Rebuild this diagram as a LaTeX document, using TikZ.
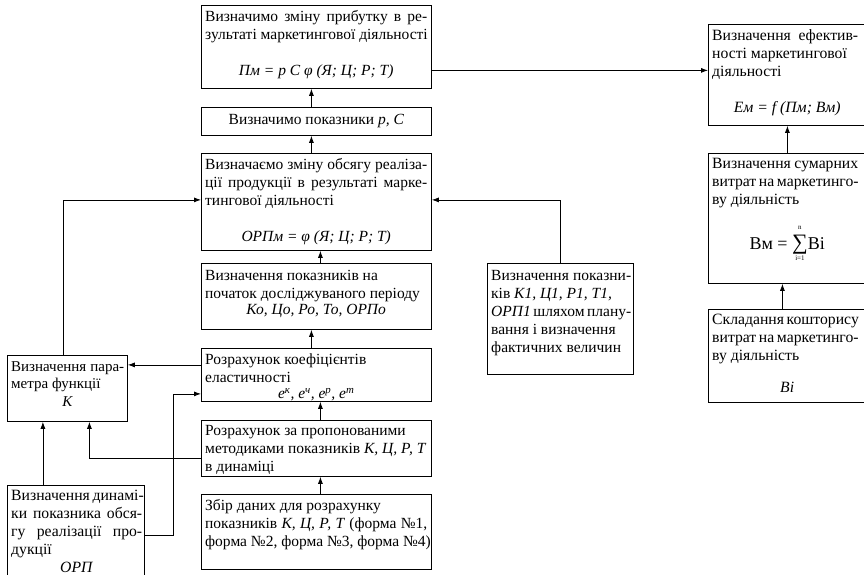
\documentclass[tikz,border=0pt]{standalone}
\usepackage{fontspec}
\setmainfont{Liberation Serif}
\usetikzlibrary{arrows.meta}

\tikzset{
  frame/.style={draw, line width=0.8pt, anchor=north west, inner sep=0pt},
  txt/.style={anchor=north west, inner sep=0pt, align=left},
  big/.style={font=\fontsize{15.7}{18}\selectfont},
  arr/.style={-{Latex[length=7pt,width=5pt]}, line width=0.8pt}
}

\begin{document}
\begin{tikzpicture}[x=1pt, y=-1pt, font=\fontsize{15.5}{18}\selectfont]
\useasboundingbox (0,0) rectangle (864,575);
% main column
\node (prib)[frame, minimum width=230pt, minimum height=83pt] at (201,5) {};
\node (prib-t)[txt] at ([shift={(4pt,-5pt)}]prib.north west) {\makebox[222pt][s]{Визначимо зміну прибутку в ре-}\\зультаті маркетингової діяльності\\[18pt]\makebox[222pt]{\textit{Пм = p C φ (Я; Ц; Р; Т)}}};
\node (pokaz)[frame, minimum width=230pt, minimum height=28pt] at (201,107) {};
\node (pokaz-t) at (pokaz.center) {Визначимо показники \textit{p, C}};
\node (orp)[frame, minimum width=230pt, minimum height=97pt] at (201,153) {};
\node (orp-t)[txt] at ([shift={(4pt,-5pt)}]orp.north west) {\makebox[222pt][s]{Визначаємо зміну обсягу реаліза-}\\\makebox[222pt][s]{ції продукції в результаті марке-}\\тингової діяльності\\[18pt]\makebox[222pt]{\textit{ОРПм = φ (Я; Ц; Р; Т)}}};
\node (poch)[frame, minimum width=230pt, minimum height=66pt] at (201,263) {};
\node (poch-t)[txt] at ([shift={(4pt,-7pt)}]poch.north west) {Визначення показників на\\початок досліджуваного періоду\\[-2pt]\makebox[222pt]{\textit{Ко, Цо, Ро, То, ОРПо}}};
\node (el)[frame, minimum width=230pt, minimum height=53pt] at (201,348) {};
\node (el-t)[txt] at ([shift={(4pt,-6pt)}]el.north west) {Розрахунок коефіцієнтів\\еластичності\\[-2pt]\makebox[222pt]{\textit{e\textsuperscript{к}, e\textsuperscript{ч}, e\textsuperscript{р}, e\textsuperscript{т}}}};
\node (dyn)[frame, minimum width=230pt, minimum height=56pt] at (201,420) {};
\node (dyn-t)[txt] at ([shift={(4pt,-5pt)}]dyn.north west) {Розрахунок за пропонованими\\методиками показників \textit{К, Ц, Р, Т}\\в динаміці};
\node (zbir)[frame, minimum width=230pt, minimum height=75pt] at (201,494) {};
\node (zbir-t)[txt] at ([shift={(4pt,-5pt)}]zbir.north west) {Збір даних для розрахунку\\\makebox[222pt][s]{показників \textit{К, Ц, Р, Т} (форма №1,}\\форма №2, форма №3, форма №4)};
% left column
\node (param)[frame, minimum width=120pt, minimum height=66pt] at (7,355) {};
\node (param-t)[txt, font=\fontsize{15}{17.5}\selectfont] at ([shift={(4pt,-6pt)}]param.north west) {\makebox[113pt][s]{Визначення пара-}\\метра функції\\\makebox[113pt]{\textit{К}}};
\node (orpd)[frame, minimum width=137pt, minimum height=100pt] at (7,485) {};
\node (orpd-t)[txt, big] at ([shift={(4pt,-5pt)}]orpd.north west) {\makebox[131pt][s]{Визначення динамі-}\\\makebox[131pt][s]{ки показника обся-}\\\makebox[131pt][s]{гу реалізації про-}\\дукції\\\makebox[131pt]{\textit{ОРП}}};
% planned values
\node (plan)[frame, minimum width=146pt, minimum height=111pt] at (487,263) {};
\node (plan-t)[txt] at ([shift={(4pt,-7pt)}]plan.north west) {\makebox[140pt][s]{Визначення показни-}\\ків \textit{К1, Ц1, Р1, Т1,}\\\makebox[140pt][s]{\textit{ОРП1} шляхом плану-}\\вання і визначення\\фактичних величин};
% right column
\node (ef)[frame, minimum width=158pt, minimum height=101pt] at (708,24) {};
\node (ef-t)[txt, big] at ([shift={(4pt,-5pt)}]ef.north west) {\makebox[146pt][s]{Визначення ефектив-}\\ності маркетингової\\діяльності\\[18pt]\makebox[150pt]{\textit{Ем = f (Пм; Вм)}}};
\node (vm)[frame, minimum width=158pt, minimum height=130pt] at (708,153) {};
\node (vm-t)[txt, big] at ([shift={(4pt,-5pt)}]vm.north west) {\makebox[146pt][s]{Визначення сумарних}\\\makebox[146pt][s]{витрат на маркетинго-}\\ву діяльність\\[16pt]\makebox[150pt]{\fontsize{18}{20}\selectfont Вм = $\mathop{\mbox{\fontsize{22}{22}\selectfont ∑}}\limits_{\mbox{\fontsize{7}{7}\selectfont i=1}}^{\mbox{\fontsize{7}{7}\selectfont n}\rule[-5pt]{0pt}{5pt}}$Ві}};
\node (vi)[frame, minimum width=158pt, minimum height=93pt] at (708,309) {};
\node (vi-t)[txt, big] at ([shift={(4pt,-5pt)}]vi.north west) {\makebox[146pt][s]{Складання кошторису}\\\makebox[146pt][s]{витрат на маркетинго-}\\ву діяльність\\[14pt]\makebox[150pt]{\textit{Ві}}};

\draw[arr] ([xshift=-5pt]pokaz.north) -- ([xshift=-5pt]prib.south);
\draw[arr] ([xshift=-5pt]orp.north) -- ([xshift=-5pt]pokaz.south);
\draw[arr] ([xshift=4pt]poch.north) -- ([xshift=4pt]orp.south);
\draw[arr] ([xshift=-5pt]el.north) -- ([xshift=-5pt]poch.south);
\draw[arr] ([xshift=4pt]dyn.north) -- ([xshift=4pt]el.south);
\draw[arr] ([xshift=4pt]zbir.north) -- ([xshift=4pt]dyn.south);
\draw[arr] ([yshift=-23.5pt]prib.east) coordinate (p1) -- (p1 -| ef.west);
\draw[arr] (plan.north) |- ([yshift=2pt]orp.east);
\draw[arr] ([xshift=-4pt]param.north) |- ([yshift=2pt]orp.west);
\draw[arr] ([yshift=10pt]el.west) coordinate (q1) -- (q1 -| param.east);
\draw[arr] (orpd.east) -- ++(29pt,0) |- ([yshift=-19pt]el.west);
\draw[arr] ([yshift=-10pt]dyn.west) -| ([xshift=22pt]param.south);
\draw[arr] ([xshift=-33pt]orpd.north) coordinate (r1) -- (r1 |- param.south);
\draw[arr] (vm.north) -- (vm.north |- ef.south);
\draw[arr] ([xshift=-5pt]vi.north) coordinate (s1) -- (s1 |- vm.south);
\end{tikzpicture}
\end{document}
